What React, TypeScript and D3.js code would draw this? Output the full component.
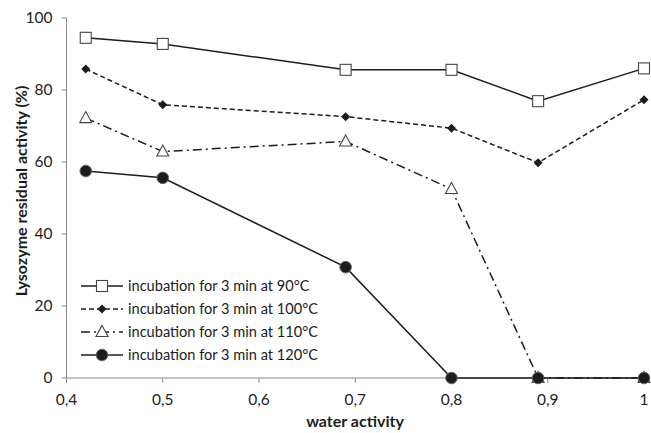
import { useMemo } from 'react';
import * as d3 from 'd3';

const waterActivity = [0.42, 0.5, 0.69, 0.8, 0.89, 1.0];
const act90 = [94.5, 92.8, 85.6, 85.6, 76.9, 86.0];
const act100 = [85.8, 75.9, 72.6, 69.4, 59.8, 77.3];
const act110 = [72.2, 62.9, 65.7, 52.5, 0, 0];
const act120 = [57.5, 55.6, 30.8, 0, 0, 0];
const xTicks = [0.4, 0.5, 0.6, 0.7, 0.8, 0.9, 1.0];
const yTicks = [0, 20, 40, 60, 80, 100];
const seriesLabels = [
  'incubation for 3 min at 90°C',
  'incubation for 3 min at 100°C',
  'incubation for 3 min at 110°C',
  'incubation for 3 min at 120°C',
];

type Marker = 'square' | 'diamond' | 'triangle' | 'circle';
const SERIES: { values: number[]; label: string; dash: string | undefined; marker: Marker }[] = [
  { values: act90, label: seriesLabels[0], dash: undefined, marker: 'square' },
  { values: act100, label: seriesLabels[1], dash: '5,3', marker: 'diamond' },
  { values: act110, label: seriesLabels[2], dash: '9,4,2,4', marker: 'triangle' },
  { values: act120, label: seriesLabels[3], dash: undefined, marker: 'circle' },
];

const FONT = 'Lato, "Open Sans", sans-serif';
const INK = '#1c1c1c';

function MarkerShape({ kind, x, y }: { kind: Marker; x: number; y: number }) {
  if (kind === 'square') {
    return <rect x={x - 5.5} y={y - 5.5} width={11} height={11} fill="#fff" stroke="#444" strokeWidth={1.1} />;
  }
  if (kind === 'diamond') {
    return <path d={`M${x},${y - 4.5}L${x + 4.5},${y}L${x},${y + 4.5}L${x - 4.5},${y}Z`} fill={INK} />;
  }
  if (kind === 'triangle') {
    return <path d={`M${x},${y - 6.5}L${x + 6},${y + 4.5}L${x - 6},${y + 4.5}Z`} fill="#fff" stroke="#444" strokeWidth={1.1} />;
  }
  return <circle cx={x} cy={y} r={5.8} fill={INK} stroke="#666" strokeWidth={1} />;
}

export default function App() {
  const margin = { top: 18, right: 7, bottom: 55, left: 66.5 };
  const width = 651;
  const height = 433;

  const x = useMemo(() => d3.scaleLinear().domain([0.4, 1.0]).range([margin.left, width - margin.right]), []);
  const y = useMemo(() => d3.scaleLinear().domain([0, 100]).range([height - margin.bottom, margin.top]), []);
  const line = d3.line<number>().x((_, i) => x(waterActivity[i])).y((d) => y(d));

  const fmt = (v: number) => (v === 1 ? '1' : d3.format('.1f')(v).replace('.', ','));
  const x0 = y(0);

  return (
    <svg width={width} height={height} style={{ position: 'absolute', left: 0, top: 0, background: '#fff' }} fontFamily={FONT}>
      {/* axes */}
      <line x1={margin.left} x2={margin.left} y1={y(100)} y2={x0} stroke="#8a8a8a" />
      <line x1={margin.left} x2={width - margin.right} y1={x0} y2={x0} stroke="#8a8a8a" />
      {yTicks.map((t) => (
        <g key={`y${t}`}>
          <line x1={margin.left - 5} x2={margin.left} y1={y(t)} y2={y(t)} stroke="#8a8a8a" />
          <text x={margin.left - 14} y={y(t)} dy="0.35em" textAnchor="end" fontSize={15.5} fill={INK}>{t}</text>
        </g>
      ))}
      {xTicks.map((t) => (
        <g key={`x${t}`}>
          <line x1={x(t)} x2={x(t)} y1={x0} y2={x0 + 5} stroke="#8a8a8a" />
          <text x={x(t)} y={x0 + 27} textAnchor="middle" fontSize={15.5} fill={INK}>{fmt(t)}</text>
        </g>
      ))}
      <text x={355} y={427} textAnchor="middle" fontSize={16} fontWeight="bold" fill={INK}>water activity</text>
      <text transform="translate(27,191) rotate(-90)" textAnchor="middle" fontSize={16} fontWeight="bold" fill={INK}>
        Lysozyme residual activity (%)
      </text>

      {/* series */}
      {SERIES.map((s) => (
        <g key={s.label}>
          <path d={line(s.values) ?? ''} fill="none" stroke={INK} strokeWidth={1.5} strokeDasharray={s.dash} />
          {s.values.map((v, i) => (
            <MarkerShape key={i} kind={s.marker} x={x(waterActivity[i])} y={y(v)} />
          ))}
        </g>
      ))}

      {/* legend */}
      {SERIES.map((s, i) => {
        const ly = 286 + i * 23;
        return (
          <g key={`lg${i}`}>
            <line x1={81} x2={123} y1={ly} y2={ly} stroke={INK} strokeWidth={1.5} strokeDasharray={s.dash} />
            <MarkerShape kind={s.marker} x={102} y={ly} />
            <text x={128} y={ly} dy="0.35em" fontSize={14.6} fill={INK}>{s.label}</text>
          </g>
        );
      })}
    </svg>
  );
}
